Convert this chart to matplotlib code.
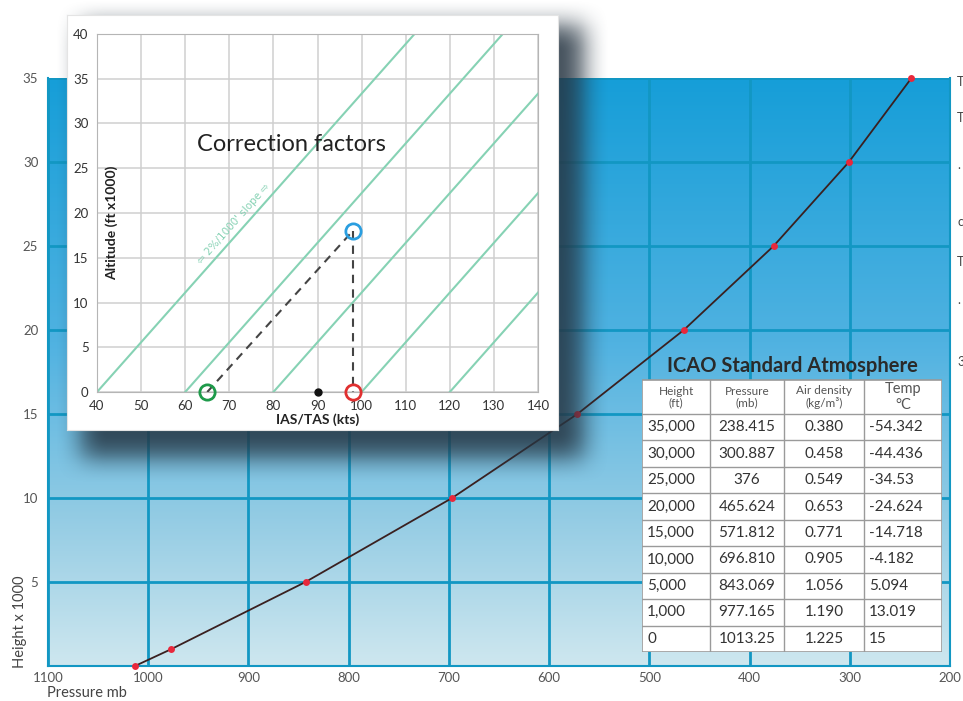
import numpy as np
import matplotlib.pyplot as plt

plt.rcParams['font.family'] = ['Lato', 'DejaVu Sans']

# ICAO standard atmosphere table
height_ft = [35000, 30000, 25000, 20000, 15000, 10000, 5000, 1000, 0]
height_lbl = ['35,000', '30,000', '25,000', '20,000', '15,000', '10,000', '5,000', '1,000', '0']
pressure_mb = [238.415, 300.887, 376, 465.624, 571.812, 696.810, 843.069, 977.165, 1013.25]
pressure_lbl = ['238.415', '300.887', '376', '465.624', '571.812', '696.810', '843.069', '977.165', '1013.25']
density_lbl = ['0.380', '0.458', '0.549', '0.653', '0.771', '0.905', '1.056', '1.190', '1.225']
temp_lbl = ['-54.342', '-44.436', '-34.53', '-24.624', '-14.718', '-4.182', '5.094', '13.019', '15']
headers = ['Height\n(ft)', 'Pressure\n(mb)', 'Air density\n(kg/m³)', 'Temp\n°C']

# correction factor inset
slope_starts = [40, 60, 80, 100, 120]   # kts at 0 ft
kts_per_kft = 1.8
ias, tas, alt = 65, 98, 18
marker_kts = 90

W, H = 963, 701
fig = plt.figure(figsize=(W / 100, H / 100), dpi=100)
fig.patch.set_facecolor('white')

def px_axes(x0, y0, x1, y1, **kw):
    return fig.add_axes([x0 / W, 1 - y1 / H, (x1 - x0) / W, (y1 - y0) / H], **kw)

# ---- main chart ----
ax = px_axes(48, 78, 950, 666, zorder=0)
ax.set_xlim(1100, 200)
ax.set_ylim(0, 35)
stops = np.array([[22, 158, 216], [80, 178, 225], [148, 204, 228], [206, 231, 239]]) / 255
pos = np.array([0, 0.45, 0.75, 1.0])
t = np.linspace(0, 1, 300)
grad = np.stack([np.interp(t, pos, stops[:, i]) for i in range(3)], axis=-1)[:, None, :]
ax.imshow(grad, extent=(1100, 200, 0, 35), aspect='auto', zorder=0, origin='upper')

gc = '#1297c3'
ax.set_xticks(range(1100, 199, -100))
ax.set_yticks(range(0, 36, 5))
ax.set_yticklabels([''] + [str(v) for v in range(5, 36, 5)])
ax.grid(True, color=gc, lw=2, zorder=1)
ax.set_axisbelow(False)
for s in ax.spines.values():
    s.set_color(gc)
    s.set_linewidth(1.5)
ax.spines['top'].set_visible(False)
ax.tick_params(length=0, labelsize=9.5, labelcolor='#555')
ax.tick_params(axis='y', pad=7)
ax.tick_params(axis='x', pad=4)

hk = np.array(height_ft) / 1000
ax.plot(pressure_mb, hk, color='#3a2020', lw=1.3, zorder=3, clip_on=False)
ax.plot(pressure_mb, hk, 'o', color='#e8283c', ms=5, mew=0, zorder=4, clip_on=False)

fig.text(20 / W, 1 - 622 / H, 'Height x 1000', rotation=90, ha='center', va='center',
         size=10.5, color='#444')
fig.text(47 / W, 1 - 693 / H, 'Pressure mb', ha='left', va='center', size=10.5, color='#444')

# stray characters of the next page column
for yy, ch in zip([82, 118, 165, 222, 262, 300, 362], ['T', 'T', '.', 'c', 'T', '.', '3']):
    fig.text(957 / W, 1 - yy / H, ch, ha='left', va='center', size=9, color='#444')

# ---- shadow under inset ----
yy, xx = np.mgrid[0:H, 0:W]
mask = ((xx > 80) & (xx < 584) & (yy > 24) & (yy < 458)).astype(float)

def blur(a, r):
    k = np.ones(2 * r + 1) / (2 * r + 1)
    a = np.apply_along_axis(lambda m: np.convolve(m, k, mode='same'), 0, a)
    return np.apply_along_axis(lambda m: np.convolve(m, k, mode='same'), 1, a)

mask = blur(blur(mask, 13), 13)
shadow = np.zeros((H, W, 4))
shadow[..., 0], shadow[..., 1], shadow[..., 2] = 0.15, 0.21, 0.26
shadow[..., 3] = 0.85 * mask
sax = fig.add_axes([0, 0, 1, 1], zorder=1)
sax.imshow(shadow, extent=(0, W, H, 0), aspect='auto')
sax.set_xlim(0, W)
sax.set_ylim(H, 0)
sax.axis('off')

box = px_axes(67, 15, 558, 430, zorder=2)
box.set_facecolor('white')
box.set_xticks([])
box.set_yticks([])
for s in box.spines.values():
    s.set_color('#e4e4e4')

# ---- inset chart ----
ia = px_axes(97, 34, 538, 392, zorder=3)
ia.set_facecolor('white')
ia.set_xlim(40, 140)
ia.set_ylim(0, 40)
ia.set_xticks(range(40, 141, 10))
ia.set_yticks(range(0, 41, 5))
ia.grid(True, color='#cfcfcf', lw=1.1)
for s in ia.spines.values():
    s.set_color('#b5b5b5')
ia.tick_params(length=0, labelsize=9.5, labelcolor='#333', pad=6)
ia.set_xlabel('IAS/TAS (kts)', fontweight='bold', size=10, color='#222', labelpad=1)
ia.text(0.034, 0.472, 'Altitude (ft x1000)', transform=ia.transAxes, rotation=90,
        ha='center', va='center', fontweight='bold', size=10, color='#222')

green = '#86d2b4'
for s0 in slope_starts:
    ia.plot([s0, s0 + kts_per_kft * 40], [0, 40], color=green, lw=1.5, zorder=2)

ia.plot([ias, tas], [0, alt], color='#444', lw=1.5, dashes=(4, 3), zorder=3)
ia.plot([tas, tas], [alt, 0], color='#444', lw=1.5, dashes=(4, 3), zorder=3)
ia.plot([ias], [0], 'o', ms=11, mfc='none', mec='#1e9a4a', mew=2, zorder=4, clip_on=False)
ia.plot([tas], [alt], 'o', ms=11, mfc='none', mec='#2a9ee0', mew=2, zorder=4, clip_on=False)
ia.plot([tas], [0], 'o', ms=11, mfc='none', mec='#e03030', mew=2, zorder=4, clip_on=False)
ia.plot([marker_kts], [0], 'o', ms=5, color='#111', zorder=4, clip_on=False)

ia.text(84.2, 27.6, 'Correction factors', ha='center', va='center', size=17, color='#222')
ang = np.degrees(np.arctan2(1, kts_per_kft))
ia.text(71.0, 18.8, '⇦ 2%/1000\' slope ⇨', rotation=ang, transform_rotates_text=True,
        rotation_mode='anchor', ha='center', va='center', size=7.5, color=green,
        family=['DejaVu Sans'])

# ---- table ----
tx = px_axes(642, 350, 942, 652, zorder=3)
tx.set_xlim(642, 942)
tx.set_ylim(652, 350)
tx.axis('off')
col_edges = [642, 710, 784, 864, 942]
top, head_bot, bot = 380, 414, 652
row_h = (bot - head_bot) / len(height_lbl)
tx.add_patch(plt.Rectangle((642, top), 300, bot - top, facecolor='white',
                           edgecolor='#9a9a9a', lw=1.2))
for xe in col_edges[1:-1]:
    tx.plot([xe, xe], [top, bot], color='#9a9a9a', lw=1)
for i in range(len(height_lbl)):
    yl = head_bot + i * row_h
    tx.plot([642, 942], [yl, yl], color='#9a9a9a', lw=1)

tx.text(792, 366, 'ICAO Standard Atmosphere', ha='center', va='center', size=14.5,
        fontweight='bold', color='#2a2a2a')
for j, h in enumerate(headers):
    xc = (col_edges[j] + col_edges[j + 1]) / 2
    tx.text(xc, (top + head_bot) / 2, h, ha='center', va='center', size=8.5 if j < 3 else 10.5,
            color='#555', linespacing=1.1)

cols = [height_lbl, pressure_lbl, density_lbl, temp_lbl]
for i in range(len(height_lbl)):
    yc = head_bot + (i + 0.5) * row_h
    for j, col in enumerate(cols):
        if j in (0, 3):
            tx.text(col_edges[j] + 5, yc, col[i], ha='left', va='center', size=11, color='#333')
        else:
            xc = (col_edges[j] + col_edges[j + 1]) / 2
            tx.text(xc, yc, col[i], ha='center', va='center', size=11, color='#333')

fig.savefig('out.png', dpi=100)
